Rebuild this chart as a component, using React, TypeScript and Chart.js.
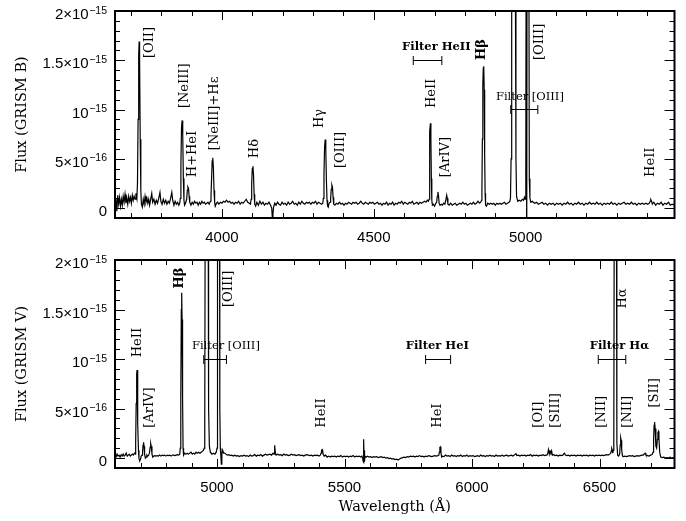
import React, { useEffect, useRef } from "react";
import { Chart, registerables } from "chart.js";
Chart.register(...registerables);

// Flux in units of 1e-16 erg/s/cm2/A ; wavelength in Angstrom
const spectrumB: [number, number][] = [
  [3648,0.2],[3651,1.0],[3654,-0.3],[3657,1.3],[3660,0.4],[3663,1.1],[3666,0.2],[3669,0.9],[3672,0.3],[3675,1.2],[3678,0.6],[3681,1.4],[3684,0.5],[3687,1.0],[3690,0.4],[3693,1.2],[3696,0.7],[3699,1.1],[3702,0.5],[3705,1.3],[3708,0.8],[3711,1.2],[3714,0.9],[3717,1.5],[3720,1.0],
  [3722,2.5],[3724,9],[3726,15.5],[3727.5,16.9],[3729,15],[3731,7],[3733,1.8],[3735,0.4],[3738,0.1],
  [3741,0.9],[3744,0.4],[3747,1.2],[3750,0.6],[3753,1.0],[3756,0.5],[3759,0.9],[3762,0.3],[3766,1.0],[3769,1.5],[3772,0.6],[3776,0.9],[3780,0.4],[3784,0.8],[3788,0.5],[3792,1.0],[3796,1.6],[3799,0.7],[3803,0.4],[3807,0.9],[3811,0.5],[3815,0.8],[3819,0.4],[3823,0.7],[3827,0.5],[3831,1.0],[3835,1.6],[3838,0.8],[3842,0.3],[3846,0.7],[3850,0.4],[3854,0.6],[3858,0.3],[3861,0.5],
  [3863,1.0],[3865,4.5],[3867,8.2],[3869,8.9],[3871,7.5],[3873,3.0],[3875,0.8],[3877,0.3],[3880,0.5],
  [3884,0.9],[3886,1.8],[3888,2.15],[3890,2.0],[3892,1.2],[3894,0.6],[3898,0.3],[3902,0.6],[3906,0.4],[3910,0.7],[3914,0.5],[3918,0.6],[3922,0.3],[3926,0.6],[3930,0.4],[3934,0.7],[3938,0.5],[3942,0.6],[3946,0.4],[3950,0.5],[3954,0.6],[3958,0.4],[3962,0.7],
  [3964,1.2],[3966,3.0],[3968,4.8],[3970,5.1],[3972,4.0],[3974,1.8],[3976,0.6],[3978,0.2],[3982,0.5],
  [3986,0.6],[3990,0.4],[3995,0.6],[4000,0.5],[4005,0.7],[4010,0.6],[4015,0.8],[4020,0.6],[4025,0.7],[4030,0.5],[4035,0.6],[4040,0.4],[4045,0.6],[4050,0.5],[4055,0.7],[4060,0.4],[4065,0.6],[4070,0.5],[4075,0.7],[4080,0.9],[4085,0.6],[4090,0.5],[4094,0.4],
  [4096,0.9],[4098,2.5],[4100,4.0],[4102,4.26],[4104,3.4],[4106,1.4],[4108,0.4],[4111,0.2],
  [4115,0.6],[4120,0.3],[4125,0.7],[4130,0.4],[4135,0.6],[4140,0.3],[4145,0.5],[4150,0.4],[4155,0.6],[4160,0.3],[4164,0.0],[4166,-1.0],[4168,-0.6],[4170,0.1],[4174,0.5],[4178,0.3],[4183,0.6],[4188,0.4],[4193,0.3],[4198,0.6],[4203,0.4],[4208,0.5],[4213,0.3],[4218,0.6],[4223,0.4],[4228,0.5],[4233,0.7],[4238,0.4],[4243,0.5],[4248,0.3],[4253,0.6],[4258,0.4],[4263,0.7],[4268,0.5],[4273,0.4],[4278,0.6],[4283,0.5],[4288,0.6],[4293,0.4],[4298,0.6],[4303,0.5],[4308,0.7],[4313,0.4],[4318,0.6],[4323,0.5],[4328,0.4],[4332,0.5],
  [4334,1.0],[4336,3.5],[4338,6.2],[4340,6.97],[4342,6.0],[4344,2.8],[4346,0.8],[4348,0.2],[4350,0.1],[4353,0.5],[4356,0.6],
  [4358,1.0],[4360,1.9],[4362,2.33],[4364,2.1],[4366,1.1],[4368,0.4],[4372,0.3],[4377,0.5],[4382,0.4],[4387,0.6],[4392,0.4],[4397,0.5],[4402,0.3],[4407,0.5],[4412,0.4],[4417,0.6],[4422,0.5],[4427,0.4],[4432,0.6],[4437,0.5],[4442,0.6],[4447,0.4],[4452,0.5],[4457,0.7],[4462,0.5],[4467,0.4],[4472,0.6],[4477,0.5],[4482,0.4],[4487,0.6],[4492,0.5],[4497,0.6],[4502,0.4],[4507,0.5],[4512,0.6],[4517,0.4],[4522,0.5],[4527,0.3],[4532,0.5],[4537,0.4],[4542,0.6],[4547,0.3],[4552,0.5],[4557,0.4],[4562,0.6],[4567,0.3],[4572,0.5],[4577,0.4],[4582,0.6],[4587,0.5],[4592,0.7],[4597,0.4],[4602,0.6],[4607,0.5],[4612,0.4],[4617,0.6],[4622,0.5],[4627,0.7],[4632,0.4],[4637,0.5],[4642,0.6],[4647,0.4],[4652,0.6],[4657,0.5],[4662,0.6],[4667,0.7],[4672,0.6],[4676,0.8],[4680,0.7],[4682,0.9],
  [4683,2.0],[4684,5.0],[4685,7.8],[4686.5,8.6],[4688,7.0],[4689.5,3.0],[4691,0.8],[4693,0.3],[4696,0.4],[4700,0.2],[4704,0.5],[4707,0.6],
  [4709,1.2],[4711,1.65],[4713,1.3],[4715,0.5],[4718,0.3],[4722,0.4],[4726,0.3],[4730,0.5],[4734,0.4],[4737,0.8],[4740,1.31],[4742,1.0],[4744,0.4],[4748,0.3],[4753,0.5],[4758,0.3],
  [4763,0.4],[4768,0.5],[4773,0.3],[4778,0.4],[4783,0.5],[4788,0.4],[4793,0.6],[4798,0.4],[4803,0.5],[4808,0.3],[4813,0.4],[4818,0.5],[4823,0.4],[4828,0.6],[4833,0.4],[4838,0.5],[4843,0.7],[4848,0.5],[4852,0.6],[4855,0.8],
  [4856,2.0],[4857.5,7.0],[4859,12.5],[4860.5,14.2],[4862,14.4],[4863.5,12.0],[4865,5.5],[4866.5,1.5],[4868,0.3],[4871,0.2],[4875,0.5],[4880,0.4],
  [4885,0.5],[4890,0.4],[4895,0.5],[4900,0.3],[4905,0.5],[4910,0.4],[4915,0.5],[4920,0.4],[4925,0.5],[4930,0.6],[4935,0.4],[4940,0.5],[4945,0.6],[4948,0.7],
  [4950,1.0],[4952,5],[4954,25],[4957,50],[4960,55],[4963,50],[4966,25],[4968,5],[4970,1.2],[4974,0.7],[4979,0.8],[4984,0.7],[4989,0.9],[4993,0.8],[4996,1.1],[4998,0.9],[5000,1.2],
  [5001,3],[5002,40],[5003.5,-5],[5005,40],[5008,60],[5010,35],[5012,3],[5014,1.0],[5017,0.6],[5022,0.7],
  [5025,0.6],[5030,0.5],[5036,0.6],[5042,0.4],[5048,0.5],[5054,0.6],[5060,0.4],[5066,0.5],[5072,0.3],[5078,0.5],[5084,0.4],[5090,0.5],[5096,0.3],[5102,0.5],[5108,0.4],[5114,0.5],[5120,0.3],
  [5126,0.5],[5132,0.4],[5138,0.6],[5144,0.4],[5150,0.5],[5156,0.3],[5162,0.5],[5168,0.4],[5174,0.6],[5180,0.4],[5186,0.5],[5192,0.3],[5198,0.5],[5204,0.4],[5210,0.6],[5216,0.4],[5222,0.5],[5228,0.4],[5234,0.6],[5240,0.4],[5246,0.5],[5252,0.3],[5258,0.5],[5264,0.4],[5270,0.5],[5276,0.4],[5282,0.6],[5288,0.4],[5294,0.5],[5300,0.3],[5306,0.5],[5312,0.4],[5318,0.5],[5324,0.6],[5330,0.4],[5336,0.5],[5342,0.4],[5348,0.6],[5354,0.4],[5360,0.5],[5366,0.3],[5372,0.5],[5378,0.4],[5384,0.5],[5390,0.4],[5396,0.5],[5402,0.4],[5407,0.5],
  [5410,0.7],[5412,0.87],[5414,0.75],[5417,0.4],[5422,0.6],[5428,0.3],[5434,0.5],[5440,0.4],[5446,0.6],[5452,0.3],[5458,0.5],[5464,0.4],[5470,0.6],[5476,0.3],[5482,0.4],[5490,0.3],
];

const spectrumV: [number, number][] = [
  [4600,0.3],[4604,0.1],[4608,0.4],[4612,0.2],[4616,0.3],[4620,0.1],[4624,0.35],[4628,0.2],[4632,0.4],[4636,0.2],[4640,0.3],[4644,0.5],[4648,0.2],[4652,0.3],[4656,0.4],[4660,0.2],[4664,0.3],[4668,0.4],[4672,0.3],[4676,0.5],[4680,0.4],
  [4681,1.5],[4683,5.5],[4685,8.5],[4686.5,8.9],[4688,7.5],[4690,3.5],[4692,0.8],[4694,0.0],[4697,-0.3],[4700,-0.1],[4703,0.2],[4706,0.3],
  [4708,0.6],[4710,1.3],[4712,1.6],[4714,1.2],[4716,0.4],[4719,0.0],[4722,0.1],[4725,0.3],[4728,0.2],[4732,0.3],[4735,0.5],[4738,1.1],[4740,1.45],[4742,1.2],[4745,0.4],[4748,0.1],[4752,0.2],[4756,0.25],[4760,0.2],
  [4765,0.25],[4770,0.2],[4775,0.3],[4780,0.2],[4785,0.3],[4790,0.25],[4795,0.3],[4800,0.2],[4805,0.3],[4810,0.25],[4815,0.3],[4820,0.2],[4825,0.3],[4830,0.3],[4835,0.25],[4840,0.3],[4845,0.35],[4850,0.3],[4854,0.4],
  [4856,1.0],[4858,6],[4860,15],[4861.5,16.7],[4863,14],[4865,6],[4867,1.0],[4869,0.3],[4873,0.5],
  [4878,0.4],[4883,0.5],[4888,0.4],[4893,0.5],[4898,0.6],[4903,0.4],[4908,0.5],[4913,0.4],[4918,0.6],[4923,0.5],[4928,0.6],[4933,0.5],[4938,0.6],[4943,0.7],[4947,0.8],
  [4950,1.0],[4952,4],[4954,30],[4957,55],[4960,60],[4963,55],[4965,30],[4967,5],[4970,1.2],[4974,0.6],[4980,0.4],[4986,0.5],[4992,0.4],[4997,0.6],[5000,1.0],
  [5001,4],[5003,40],[5006,60],[5009,45],[5011,5],[5013,1.0],[5015,0.3],[5017,-0.6],[5019,0.4],[5022,0.8],[5026,0.5],
  [5030,0.5],[5035,0.4],[5040,0.3],[5046,0.35],[5052,0.25],[5058,0.3],[5064,0.2],[5070,0.3],[5076,0.2],[5082,0.25],[5088,0.15],[5094,0.25],[5100,0.2],[5106,0.3],[5112,0.2],[5118,0.25],[5124,0.15],[5130,0.3],[5136,0.2],[5142,0.25],[5148,0.35],[5154,0.2],[5160,0.3],[5166,0.25],[5172,0.35],[5178,0.2],[5184,0.3],[5190,0.4],[5196,0.3],[5202,0.35],[5208,0.4],[5214,0.3],[5220,0.5],[5224,0.4],
  [5225,0.6],[5227,1.3],[5229,0.5],[5232,0.3],[5238,0.4],[5244,0.3],[5250,0.35],[5256,0.25],[5262,0.4],[5268,0.3],[5274,0.35],[5280,0.25],[5286,0.3],[5292,0.4],[5298,0.3],[5304,0.35],[5310,0.25],[5316,0.3],[5322,0.35],[5328,0.25],[5334,0.3],[5340,0.2],[5346,0.3],[5352,0.35],[5358,0.3],[5364,0.25],[5370,0.3],[5376,0.2],[5382,0.3],[5388,0.25],[5394,0.3],[5400,0.2],[5405,0.3],
  [5408,0.5],[5410,0.8],[5412,0.87],[5414,0.8],[5416,0.4],[5420,0.2],[5426,0.3],[5432,0.1],[5438,0.2],[5444,0.1],[5450,0.2],[5456,0.15],[5462,0.2],[5468,0.1],[5474,0.2],[5480,0.15],[5486,0.25],[5492,0.1],[5498,0.2],[5504,0.15],[5510,0.2],[5516,0.1],[5522,0.2],[5528,0.15],[5534,0.25],[5540,0.1],[5546,0.2],[5552,0.15],[5558,0.2],[5564,0.1],[5568,0.2],[5571,0.0],
  [5573,-0.3],[5574,0.6],[5575,-0.4],[5576,1.9],[5577,-0.3],[5578,0.8],[5579,-0.2],[5581,0.2],[5585,0.1],
  [5590,0.2],[5596,0.1],[5602,0.15],[5608,0.05],[5614,0.15],[5620,0.1],[5626,0.15],[5632,0.05],[5638,0.1],[5644,0.15],[5650,0.05],[5656,0.1],[5662,0.0],[5668,0.05],[5674,-0.05],[5680,0.0],[5686,-0.1],[5692,-0.05],[5698,-0.15],[5704,-0.1],[5710,-0.2],[5716,-0.1],[5722,0.0],[5728,0.05],[5734,0.1],[5740,0.05],[5746,0.15],[5752,0.1],[5758,0.2],[5764,0.15],[5770,0.2],[5776,0.1],[5782,0.2],[5788,0.15],[5794,0.25],[5800,0.15],[5806,0.2],[5812,0.1],[5818,0.2],[5824,0.15],[5830,0.25],[5836,0.2],[5842,0.15],[5848,0.2],[5854,0.25],[5860,0.2],[5866,0.25],[5870,0.3],
  [5872,0.6],[5874,1.1],[5876,1.14],[5878,0.6],[5881,0.1],[5885,0.2],[5890,0.15],[5896,0.3],[5902,0.2],[5908,0.25],[5914,0.15],[5920,0.3],
  [5926,0.2],[5932,0.25],[5938,0.15],[5944,0.25],[5950,0.2],[5956,0.3],[5962,0.15],[5968,0.25],[5974,0.2],[5980,0.3],[5986,0.15],[5992,0.25],[5998,0.2],[6004,0.25],[6010,0.15],[6016,0.2],[6022,0.25],[6028,0.15],[6034,0.3],[6040,0.2],[6046,0.25],[6052,0.15],[6058,0.25],[6064,0.2],[6070,0.3],[6076,0.2],[6082,0.25],[6088,0.15],[6094,0.3],[6100,0.2],[6106,0.25],[6112,0.2],[6118,0.3],[6124,0.2],[6130,0.25],[6136,0.3],[6142,0.2],[6148,0.25],[6154,0.3],[6160,0.2],[6166,0.3],[6172,0.45],[6176,0.25],[6182,0.3],[6188,0.2],[6194,0.3],[6200,0.25],[6206,0.3],[6212,0.2],[6218,0.3],[6224,0.25],[6230,0.35],[6236,0.2],[6242,0.3],[6248,0.25],[6254,0.3],[6260,0.2],[6266,0.3],[6272,0.25],[6278,0.35],[6284,0.25],[6290,0.3],[6294,0.3],
  [6297,0.5],[6300,0.85],[6303,0.4],[6306,0.7],[6309,0.55],[6312,0.75],[6315,0.3],[6320,0.35],[6326,0.25],[6332,0.3],[6338,0.2],[6344,0.3],[6350,0.25],[6356,0.3],[6360,0.45],[6363,0.5],[6366,0.3],[6372,0.25],[6378,0.3],[6384,0.2],[6390,0.3],[6396,0.25],[6402,0.3],[6408,0.2],[6414,0.3],[6420,0.25],[6426,0.3],[6432,0.2],[6438,0.3],[6444,0.25],[6450,0.3],[6456,0.2],[6462,0.3],[6468,0.25],[6474,0.3],[6480,0.2],[6486,0.3],[6492,0.25],[6498,0.3],[6504,0.25],[6510,0.3],[6516,0.25],[6522,0.3],[6528,0.35],[6534,0.3],[6540,0.4],[6544,0.5],
  [6546,0.7],[6548,0.95],[6550,0.8],[6552,0.5],[6554,0.8],
  [6556,1.5],[6558,30],[6561,60],[6564,60],[6566,30],[6568,1.5],[6571,0.3],[6575,0.2],
  [6579,0.4],[6581,1.3],[6583,2.05],[6585,1.8],[6587,0.8],[6590,0.2],[6594,0.15],[6600,0.2],[6606,0.15],[6612,0.2],[6618,0.25],[6624,0.2],[6630,0.25],[6636,0.15],[6642,0.2],[6648,0.25],[6654,0.2],[6660,0.25],[6666,0.3],[6672,0.3],[6676,0.45],[6679,0.5],[6682,0.3],[6688,0.25],[6694,0.2],[6700,0.3],[6706,0.35],[6710,0.6],
  [6712,1.8],[6714,3.3],[6716,3.65],[6718,3.0],[6721,1.2],[6724,1.0],[6727,1.9],[6729,2.6],[6731,2.7],[6733,2.0],[6736,0.6],[6740,0.1],[6746,0.05],[6752,0.1],[6758,0.0],[6764,0.05],[6770,0.0],[6776,0.1],[6782,0.0],[6788,0.05],[6794,0.0],
];

const xRangeB = [3648, 5490];
const xRangeV = [4600, 6794];
const yRange = [-1, 20]; // units of 1e-16
const xTicksB = [4000, 4500, 5000];
const xTicksV = [5000, 5500, 6000, 6500];
const yTickValues = [0, 5, 10, 15, 20];
const yTickMantissa = ["0", "5×10", "10", "1.5×10", "2×10"];
const yTickExponent = ["", "−16", "−15", "−15", "−15"];

type Ann = { text: string; x: number; y: number; bold?: boolean };
type Filt = { text: string; from: number; to: number; y: number; textX: number; textY: number; bold?: boolean };

// line identifications: x = wavelength, y = flux where the (vertical) label starts
const labelsB: Ann[] = [
  { text: "[OII]", x: 3763, y: 15.23 },
  { text: "[NeIII]", x: 3878, y: 10.15 },
  { text: "H+HeI", x: 3904, y: 3.14 },
  { text: "[NeIII]+Hε", x: 3977, y: 5.88 },
  { text: "Hδ", x: 4109, y: 5.07 },
  { text: "Hγ", x: 4323, y: 8.12 },
  { text: "[OIII]", x: 4392, y: 4.06 },
  { text: "HeII", x: 4691, y: 10.15 },
  { text: "[ArIV]", x: 4738, y: 3.14 },
  { text: "Hβ", x: 4855, y: 15.03, bold: true },
  { text: "[OIII]", x: 5047, y: 15.03 },
  { text: "HeII", x: 5413, y: 3.17 },
];
const filtersB: Filt[] = [
  { text: "Filter HeII", from: 4630, to: 4724, y: 14.98, textX: 4706, textY: 16.38, bold: true },
  { text: "Filter [OIII]", from: 4951, to: 5040, y: 10.02, textX: 5014, textY: 11.3 },
];
const labelsV: Ann[] = [
  { text: "HeII", x: 4687, y: 10.18 },
  { text: "[ArIV]", x: 4737, y: 3.07 },
  { text: "Hβ", x: 4854, y: 17.13, bold: true },
  { text: "[OIII]", x: 5046, y: 15.26 },
  { text: "HeII", x: 5410, y: 3.07 },
  { text: "HeI", x: 5867, y: 3.07 },
  { text: "[OI]", x: 6263, y: 3.07 },
  { text: "[SIII]", x: 6329, y: 3.07 },
  { text: "[NII]", x: 6508, y: 3.07 },
  { text: "Hα", x: 6592, y: 15.1 },
  { text: "[NII]", x: 6610, y: 3.07 },
  { text: "[SII]", x: 6717, y: 5.1 },
];
const filtersV: Filt[] = [
  { text: "Filter [OIII]", from: 4948, to: 5037, y: 9.98, textX: 5035, textY: 11.3 },
  { text: "Filter HeI", from: 5818, to: 5916, y: 10.02, textX: 5864, textY: 11.3, bold: true },
  { text: "Filter Hα", from: 6495, to: 6603, y: 10.02, textX: 6578, textY: 11.27, bold: true },
];

const SERIF = '"DejaVu Serif", serif';
const SANS = '"Liberation Sans", Arial, sans-serif';

function decor(opts: { yTitle: string; xTitle?: string; xTitleY?: number; labels: Ann[]; filters: Filt[] }) {
  return {
    id: "decor",
    afterDraw(chart: any) {
      const { ctx, chartArea: a } = chart;
      const xs = chart.scales.x;
      const ys = chart.scales.y;
      ctx.save();
      ctx.strokeStyle = "#000";
      ctx.fillStyle = "#000";
      ctx.lineWidth = 1;
      ctx.beginPath();
      for (let v = Math.ceil(xs.min / 100) * 100; v <= xs.max; v += 100) {
        const p = Math.round(xs.getPixelForValue(v)) + 0.5;
        const len = v % 500 === 0 ? 9 : 5;
        ctx.moveTo(p, a.bottom); ctx.lineTo(p, a.bottom - len);
        ctx.moveTo(p, a.top); ctx.lineTo(p, a.top + len);
      }
      for (let v = Math.ceil(ys.min); v <= ys.max; v += 1) {
        const p = Math.round(ys.getPixelForValue(v)) + 0.5;
        const len = v % 5 === 0 ? 10 : 5;
        ctx.moveTo(a.left, p); ctx.lineTo(a.left + len, p);
        ctx.moveTo(a.right, p); ctx.lineTo(a.right - len, p);
      }
      ctx.stroke();
      ctx.lineWidth = 2;
      ctx.strokeRect(a.left, a.top, a.right - a.left, a.bottom - a.top);

      // y tick labels with superscripts
      yTickValues.forEach((v, i) => {
        const p = ys.getPixelForValue(v);
        let xr = a.left - 8;
        ctx.textAlign = "right";
        ctx.textBaseline = "alphabetic";
        if (yTickExponent[i]) {
          ctx.font = `10.5px ${SANS}`;
          ctx.fillText(yTickExponent[i], xr, p + 2.5);
          xr -= ctx.measureText(yTickExponent[i]).width + 0.5;
        }
        ctx.font = `15px ${SANS}`;
        ctx.fillText(yTickMantissa[i], xr, p + 8);
      });

      // axis titles
      ctx.font = `14.5px ${SERIF}`;
      ctx.textAlign = "center";
      ctx.textBaseline = "middle";
      ctx.save();
      ctx.translate(22, (a.top + a.bottom) / 2);
      ctx.rotate(-Math.PI / 2);
      ctx.fillText(opts.yTitle, 0, 0);
      ctx.restore();
      if (opts.xTitle) ctx.fillText(opts.xTitle, (a.left + a.right) / 2, opts.xTitleY);

      // line identifications (vertical)
      opts.labels.forEach((l) => {
        ctx.save();
        ctx.font = `${l.bold ? "bold " : ""}13px ${SERIF}`;
        ctx.translate(xs.getPixelForValue(l.x), ys.getPixelForValue(l.y));
        ctx.rotate(-Math.PI / 2);
        ctx.textAlign = "left";
        ctx.textBaseline = "middle";
        ctx.fillText(l.text, 0, 0);
        ctx.restore();
      });

      // filter bandpasses
      opts.filters.forEach((f) => {
        const x1 = xs.getPixelForValue(f.from);
        const x2 = xs.getPixelForValue(f.to);
        const py = Math.round(ys.getPixelForValue(f.y)) + 0.5;
        ctx.lineWidth = 1;
        ctx.beginPath();
        ctx.moveTo(x1, py); ctx.lineTo(x2, py);
        ctx.moveTo(x1, py - 4.5); ctx.lineTo(x1, py + 4.5);
        ctx.moveTo(x2, py - 4.5); ctx.lineTo(x2, py + 4.5);
        ctx.stroke();
        ctx.font = `${f.bold ? "bold " : ""}11.5px ${SERIF}`;
        ctx.textAlign = "center";
        ctx.textBaseline = "middle";
        ctx.fillText(f.text, xs.getPixelForValue(f.textX), ys.getPixelForValue(f.textY));
      });
      ctx.restore();
    },
  };
}

function makeChart(canvas: HTMLCanvasElement, spec: [number, number][], xr: number[], xticks: number[], padTop: number, axisH: number, plugin: any) {
  return new Chart(canvas, {
    type: "line",
    data: {
      datasets: [
        {
          data: spec.map(([x, y]) => ({ x, y })),
          borderColor: "#000",
          borderWidth: 1.2,
          pointRadius: 0,
          tension: 0,
          fill: false,
        },
      ],
    },
    options: {
      responsive: false,
      animation: false,
      layout: { padding: { top: padTop, left: 115, right: 11.5, bottom: 0 } },
      plugins: { legend: { display: false }, tooltip: { enabled: false } },
      scales: {
        x: {
          type: "linear",
          min: xr[0],
          max: xr[1],
          grid: { display: false },
          border: { display: false },
          afterBuildTicks: (s: any) => { s.ticks = xticks.map((value) => ({ value })); },
          afterFit: (s: any) => { s.height = axisH; },
          ticks: {
            autoSkip: false,
            maxRotation: 0,
            padding: 3,
            color: "#000",
            font: { family: SANS, size: 15 },
            callback: (v: any) => String(v),
          },
        },
        y: { display: false, min: yRange[0], max: yRange[1] },
      },
    },
    plugins: [plugin],
  } as any);
}

export default function App() {
  const topRef = useRef<HTMLCanvasElement>(null);
  const botRef = useRef<HTMLCanvasElement>(null);
  useEffect(() => {
    const c1 = makeChart(topRef.current!, spectrumB, xRangeB, xTicksB, 11, 32,
      decor({ yTitle: "Flux (GRISM B)", labels: labelsB, filters: filtersB }));
    const c2 = makeChart(botRef.current!, spectrumV, xRangeV, xTicksV, 15, 53,
      decor({ yTitle: "Flux (GRISM V)", xTitle: "Wavelength (Å)", xTitleY: 262, labels: labelsV, filters: filtersV }));
    return () => { c1.destroy(); c2.destroy(); };
  }, []);
  return (
    <div style={{ position: "fixed", left: 0, top: 0, width: 686, height: 521, background: "#fff" }}>
      <canvas ref={topRef} width={686} height={250} style={{ position: "absolute", left: 0, top: 0 }} />
      <canvas ref={botRef} width={686} height={276} style={{ position: "absolute", left: 0, top: 245 }} />
    </div>
  );
}
